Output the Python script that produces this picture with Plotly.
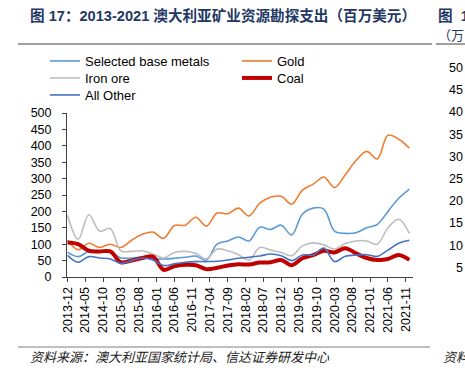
import plotly.graph_objects as go

# ---------------- data ----------------
quarters = ["2013-12", "2014-03", "2014-06", "2014-09", "2014-12", "2015-03", "2015-06", "2015-09",
            "2015-12", "2016-03", "2016-06", "2016-09", "2016-12", "2017-03", "2017-06", "2017-09",
            "2017-12", "2018-03", "2018-06", "2018-09", "2018-12", "2019-03", "2019-06", "2019-09",
            "2019-12", "2020-03", "2020-06", "2020-09", "2020-12", "2021-03", "2021-06", "2021-09",
            "2021-12"]

base_metals = [75, 62, 78, 80, 78, 58, 58, 60, 55, 55, 57, 60, 64, 52, 100, 110, 122, 110, 152, 145,
               158, 128, 192, 210, 207, 140, 133, 135, 150, 160, 200, 240, 268]
gold = [112, 83, 103, 90, 100, 90, 112, 130, 137, 118, 157, 158, 182, 155, 195, 193, 210, 186, 225,
        243, 246, 222, 265, 283, 305, 273, 312, 355, 383, 360, 432, 420, 393]
iron_ore = [188, 115, 190, 140, 148, 80, 78, 80, 70, 58, 75, 78, 72, 55, 85, 80, 68, 52, 90, 82, 75,
            65, 95, 104, 98, 85, 102, 110, 110, 100, 150, 176, 133]
coal = [105, 100, 80, 78, 78, 45, 50, 58, 62, 22, 33, 37, 36, 24, 28, 35, 39, 38, 44, 45, 52, 36, 57,
        67, 80, 75, 88, 72, 58, 52, 55, 67, 52]
all_other = [66, 45, 62, 58, 55, 42, 50, 58, 52, 35, 40, 45, 47, 47, 48, 52, 57, 60, 64, 70, 65, 50,
             67, 67, 88, 47, 63, 67, 68, 63, 82, 103, 112]

tick_labels = ["2013-12", "2014-05", "2014-10", "2015-03", "2015-08", "2016-01", "2016-06", "2016-11",
               "2017-04", "2017-09", "2018-02", "2018-07", "2018-12", "2019-05", "2019-10", "2020-03",
               "2020-08", "2021-01", "2021-06", "2021-11"]
y_ticks = [0, 50, 100, 150, 200, 250, 300, 350, 400, 450, 500]
# visible (cropped) tick labels of the neighbouring chart at the right edge
right_ticks = ["50", "45", "40", "35", "30", "25", "20", "15", "10", "5"]

title_text = "图 17：2013-2021 澳大利亚矿业资源勘探支出（百万美元）"
source_text = "资料来源：澳大利亚国家统计局、信达证券研发中心"

# ---------------- layout helpers ----------------
W, H = 465, 368
L, R, T, B = 67, 413, 113, 277


def px(x):
    return (x - L) / (R - L)


def py(y):
    return (B - y) / (B - T)


dates = [q + "-01" for q in quarters]
tickvals = [t + "-01" for t in tick_labels]

FONT = "Liberation Sans, Arial, Noto Sans CJK SC, sans-serif"
CJK = "Liberation Sans, Arial, Noto Sans CJK SC, sans-serif"

series = [
    ("Selected base metals", base_metals, "#5B9BD5", 1.6, "legend"),
    ("Gold", gold, "#ED7D31", 1.6, "legend2"),
    ("Iron ore", iron_ore, "#BEBEBE", 1.6, "legend3"),
    ("Coal", coal, "#C00000", 4, "legend4"),
    ("All Other", all_other, "#4472C4", 1.6, "legend5"),
]

fig = go.Figure()
for name, vals, color, width, lg in series:
    fig.add_trace(go.Scatter(x=dates, y=vals, name=name, mode="lines",
                             line=dict(color=color, width=width, shape="spline", smoothing=1.0),
                             legend=lg))

legend_pos = {
    "legend": (45, 61),
    "legend2": (237, 61),
    "legend3": (45, 78),
    "legend4": (237, 78),
    "legend5": (45, 95),
}
legend_layout = {}
for key, (lx, ly) in legend_pos.items():
    legend_layout[key] = dict(x=px(lx), y=py(ly), xanchor="left", yanchor="middle",
                              bgcolor="rgba(0,0,0,0)", borderwidth=0,
                              font=dict(family=FONT, size=13, color="#000000"),
                              orientation="h")

annotations = [
    dict(text="<b>" + title_text + "</b>", x=px(28), y=py(16), xref="paper", yref="paper",
         xanchor="left", yanchor="middle", showarrow=False,
         font=dict(family=CJK, size=14.6, color="#1F3864")),
    dict(text="<b>图  1</b>", x=px(436), y=py(16), xref="paper", yref="paper",
         xanchor="left", yanchor="middle", showarrow=False,
         font=dict(family=CJK, size=14.6, color="#1F3864")),
    dict(text="（万", x=px(436), y=py(35), xref="paper", yref="paper",
         xanchor="left", yanchor="middle", showarrow=False,
         font=dict(family=CJK, size=13, color="#1F3864")),
    dict(text="<i>" + source_text + "</i>", x=px(28), y=py(357), xref="paper", yref="paper",
         xanchor="left", yanchor="middle", showarrow=False,
         font=dict(family=CJK, size=13, color="#222222")),
    dict(text="<i>资料</i>", x=px(441), y=py(357), xref="paper", yref="paper",
         xanchor="left", yanchor="middle", showarrow=False,
         font=dict(family=CJK, size=13, color="#222222")),
]
for i, t in enumerate(right_ticks):
    annotations.append(dict(text=t, x=px(465), y=py(68 + i * 22.2), xref="paper", yref="paper",
                            xanchor="right", yanchor="middle", showarrow=False,
                            font=dict(family=FONT, size=12.5, color="#000000")))

shapes = [
    dict(type="line", xref="paper", yref="paper", x0=px(18), x1=px(432), y0=py(44), y1=py(44),
         line=dict(color="#404040", width=1.2)),
    dict(type="line", xref="paper", yref="paper", x0=px(436), x1=px(470), y0=py(44), y1=py(44),
         line=dict(color="#404040", width=1.2)),
    dict(type="line", xref="paper", yref="paper", x0=px(18), x1=px(430), y0=py(347), y1=py(347),
         line=dict(color="#808080", width=1.2)),
]

fig.update_layout(
    width=W, height=H,
    margin=dict(l=L, r=W - R, t=T, b=H - B, pad=0),
    paper_bgcolor="white", plot_bgcolor="white",
    font=dict(family=FONT, size=12.5, color="#000000"),
    showlegend=True,
    annotations=annotations,
    shapes=shapes,
    xaxis=dict(type="date", range=["2013-11-26", "2022-01-01"],
               tickmode="array", tickvals=tickvals, ticktext=tick_labels, tickangle=-90,
               showgrid=False, zeroline=False, showline=True, linecolor="#404040", linewidth=1,
               ticks="outside", ticklen=4, tickcolor="#404040",
               tickfont=dict(family=FONT, size=12.5, color="#000000")),
    yaxis=dict(range=[0, 500], tickmode="array", tickvals=y_ticks,
               showgrid=False, zeroline=False, showline=True, linecolor="#404040", linewidth=1,
               ticks="outside", ticklen=4, tickcolor="#404040", ticklabelstandoff=8,
               tickfont=dict(family=FONT, size=12.5, color="#000000")),
    **legend_layout,
)

fig.write_html("out.html", config={"displayModeBar": False},
               post_script="document.body.style.margin='0';document.body.style.overflow='hidden';")
